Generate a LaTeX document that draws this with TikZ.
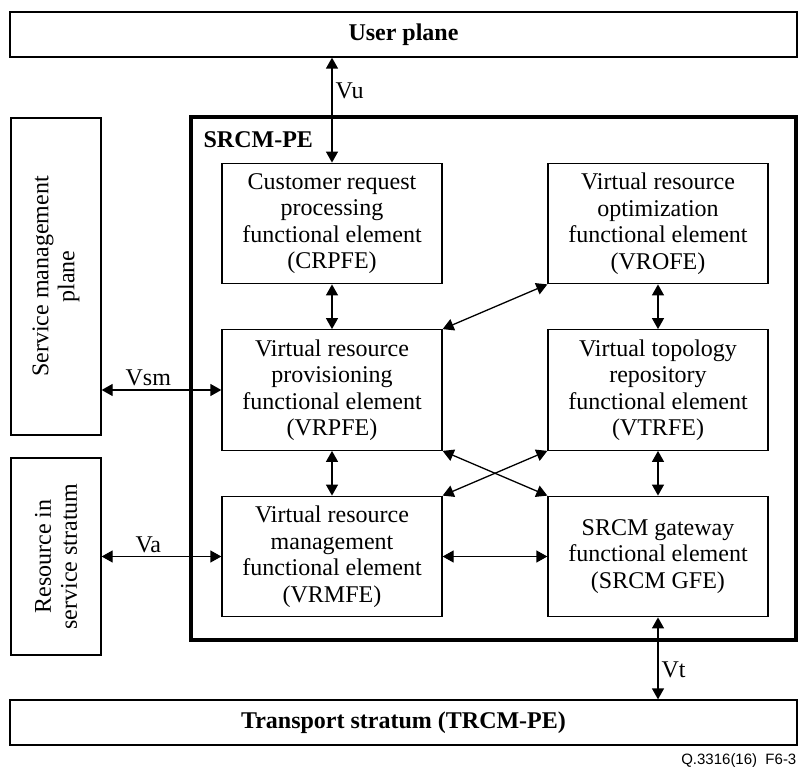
\documentclass[tikz,border=0pt]{standalone}
\usepackage{fontspec}
\setmainfont{Liberation Serif}
\newfontfamily\figfont{Liberation Sans}
\usetikzlibrary{arrows.meta,positioning}

\tikzset{
	fe/.style={draw,line width=1.3pt,minimum width=220pt,minimum height=120.5pt,align=center,inner sep=2pt,font=\fontsize{24}{26.5}\selectfont},
	plane/.style={draw,line width=1.3pt,minimum width=787pt,minimum height=45pt,font=\fontsize{24}{26.5}\selectfont\bfseries},
	side/.style={draw,line width=1.3pt,rotate=90,minimum height=90pt,align=center,font=\fontsize{24}{26}\selectfont},
	lbl/.style={font=\fontsize{24}{26.5}\selectfont,inner sep=3pt}
}

\begin{document}
\begin{tikzpicture}[x=1pt,y=1pt,>={Triangle[length=11pt,width=12pt]},line width=1.3pt]
\useasboundingbox (0,0) rectangle (798,-767);

% outer planes
\node[plane] (up) at (403.5,-34.5) {User plane};
\node[plane] (ts) at (403.5,-722.5) {Transport stratum (TRCM-PE)};
\node[side,minimum width=317pt] (smp) at (56,-276.5) {Service management\\plane};
\node[side,minimum width=197pt] (rss) at (56,-556.5) {Resource in\\service stratum};

% SRCM-PE
\node[draw,line width=3.5pt,minimum width=605pt,minimum height=523pt] (pe) at (493.5,-378.5) {};
\node[anchor=base west,inner sep=0pt,font=\fontsize{24}{26.5}\selectfont\bfseries] (pename) at (203,-148) {SRCM-PE};

\node[fe] (crpfe) at (332,-223.5) {Customer request\\processing\\functional element\\(CRPFE)};
\node[fe] (vrofe) [right of=crpfe,node distance=326pt] {Virtual resource\\optimization\\functional element\\(VROFE)};
\node[fe] (vrpfe) [below of=crpfe,node distance=166.5pt] {Virtual resource\\provisioning\\functional element\\(VRPFE)};
\node[fe] (vtrfe) [right of=vrpfe,node distance=326pt] {Virtual topology\\repository\\functional element\\(VTRFE)};
\node[fe] (vrmfe) [below of=vrpfe,node distance=166.5pt] {Virtual resource\\management\\functional element\\(VRMFE)};
\node[fe] (gfe) [right of=vrmfe,node distance=326pt] {SRCM gateway\\functional element\\(SRCM GFE)};

\node[anchor=base east,inner sep=0pt,font=\figfont\fontsize{15}{17}\selectfont] (figno) at (797,-764) {Q.3316(16)~~F6-3};

\path[<->] (up.south -| crpfe.north) edge node[lbl,right,pos=0.32] {Vu} (crpfe.north)
	(crpfe) edge (vrpfe)
	(vrpfe) edge (vrmfe)
	(vrofe) edge (vtrfe)
	(vtrfe) edge (gfe)
	(vrmfe) edge (gfe)
	(vrofe.south west) edge (vrpfe.north east)
	(vrpfe.south east) edge (gfe.north west)
	(vtrfe.south west) edge (vrmfe.north east)
	(smp.south |- vrpfe) edge node[lbl,above,pos=0.39] {Vsm} (vrpfe)
	(rss.south |- vrmfe) edge node[lbl,above,pos=0.39] {Va} (vrmfe)
	(gfe) edge node[lbl,right,pos=0.64] {Vt} (ts.north -| gfe);
\end{tikzpicture}
\end{document}
